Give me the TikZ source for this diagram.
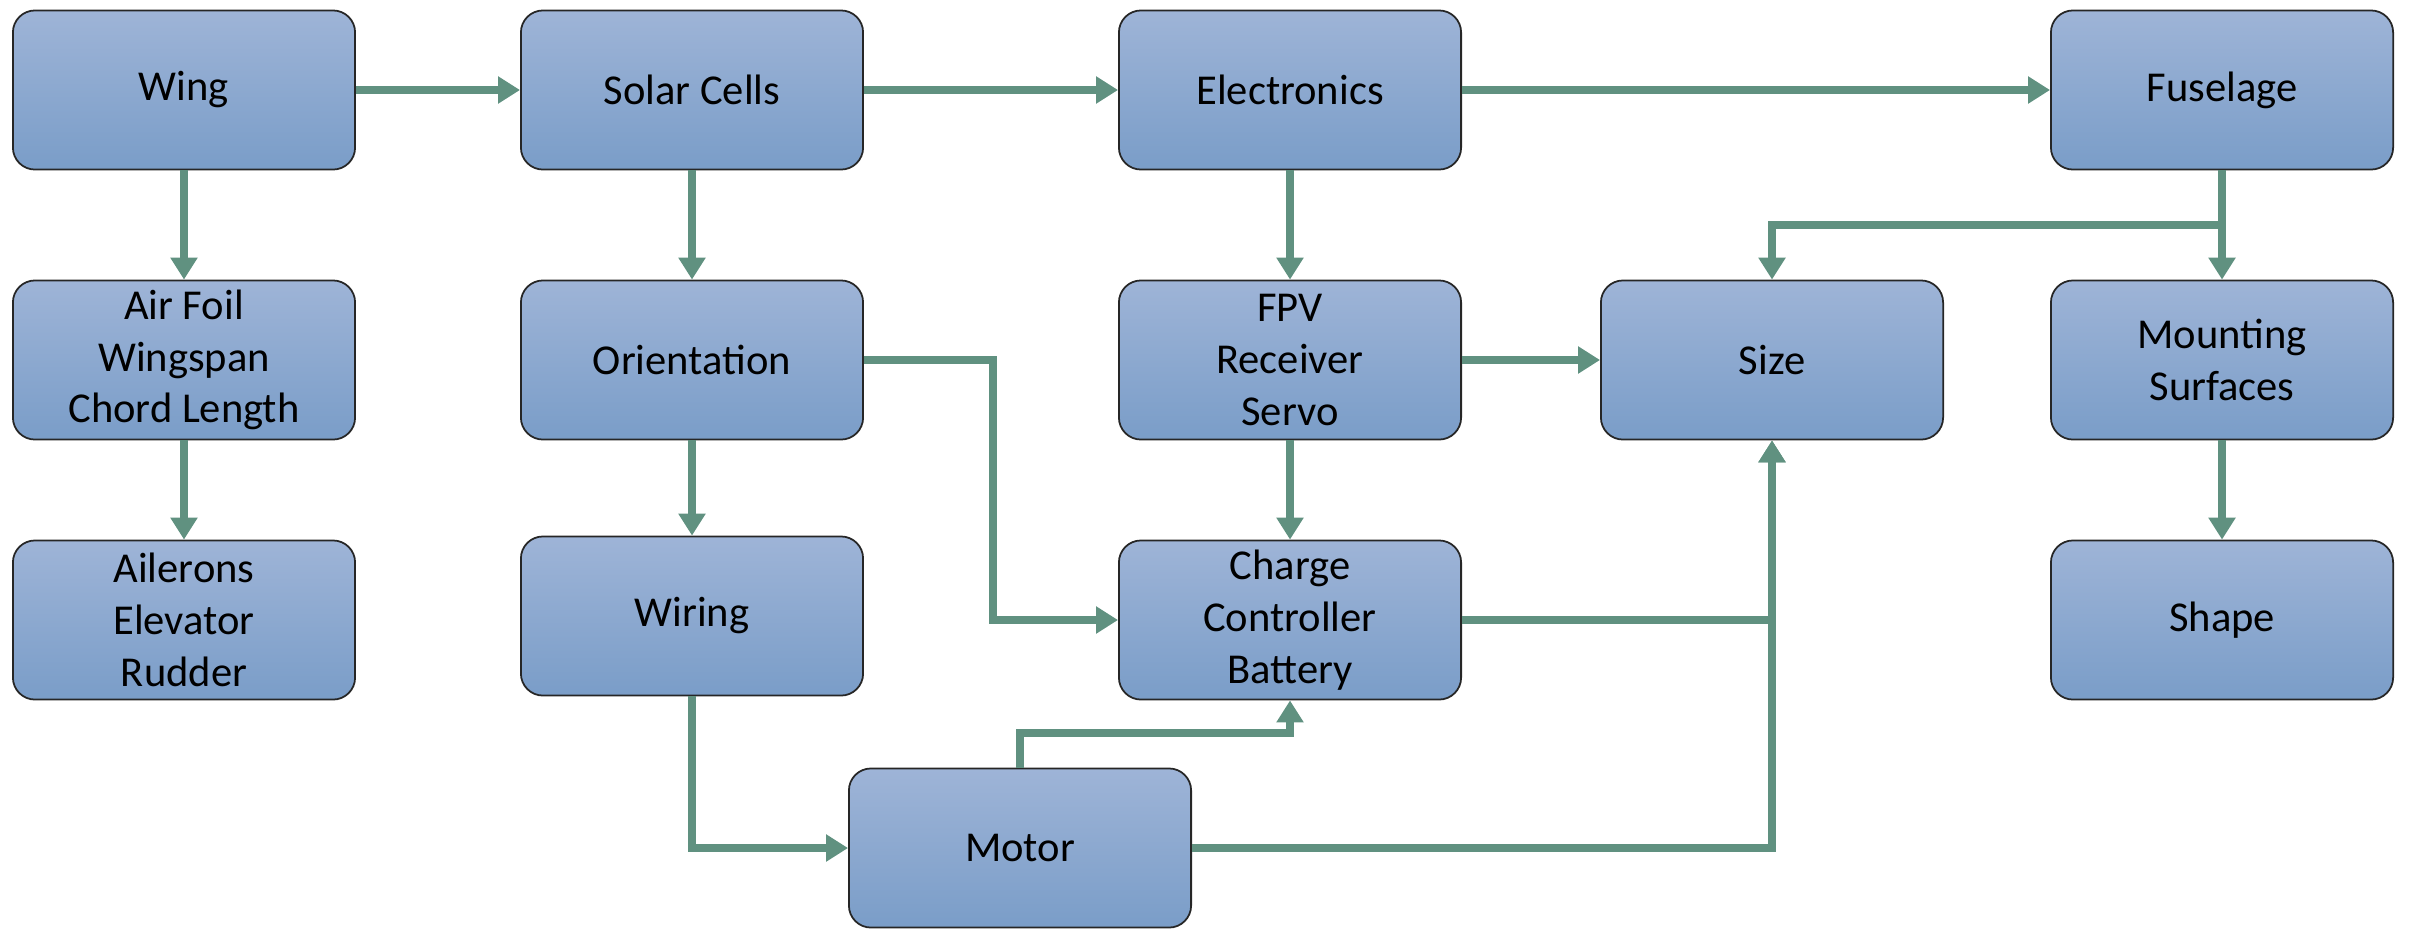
\documentclass[tikz,border=0pt]{standalone}
\usepackage{fontspec}
\setmainfont{Carlito}
\usetikzlibrary{arrows.meta}
\definecolor{boxtop}{RGB}{158,180,215}
\definecolor{boxbot}{RGB}{122,157,200}
\definecolor{arr}{RGB}{96,145,128}
\begin{document}
\begin{tikzpicture}[x=0.01cm,y=-0.01cm,
  blk/.style={draw=black!85, line width=0.5pt, rounded corners=0.22cm,
    top color=boxtop, bottom color=boxbot,
    minimum width=3.42cm, minimum height=1.59cm, inner sep=0pt,
    align=center, font=\fontsize{12.1}{14.7}\selectfont},
  conn/.style={draw=arr, line width=0.072cm,
    -{Triangle[width=0.26cm,length=0.22cm]}}]
\useasboundingbox (0,0) rectangle (2410,930);
% column 1
\node[blk] (wing) at (184,90) {Wing};
\node[blk] (foil) at (184,360) {Air Foil\\Wingspan\\Chord Length};
\node[blk] (ail) at (184,620) {Ailerons\\Elevator\\Rudder};
% column 2
\node[blk] (solar) at (692,90) {Solar Cells};
\node[blk] (orient) at (692,360) {Orientation};
\node[blk] (wiring) at (692,616) {Wiring};
% column 3
\node[blk] (elec) at (1290,90) {Electronics};
\node[blk] (fpv) at (1290,360) {FPV\\Receiver\\Servo};
\node[blk] (charge) at (1290,620) {Charge\\Controller\\Battery};
\node[blk] (motor) at (1020,848) {Motor};
% column 4
\node[blk] (size) at (1772,360) {Size};
% column 5
\node[blk] (fus) at (2222,90) {Fuselage};
\node[blk] (mount) at (2222,360) {Mounting\\Surfaces};
\node[blk] (shape) at (2222,620) {Shape};
% helper coordinates
\coordinate (fb) at (2222,225);
\coordinate (oc) at (993,360);
\coordinate (mc) at (1020,733);
% connectors
\draw[conn] (wing.east) -- (solar.west);
\draw[conn] (solar.east) -- (elec.west);
\draw[conn] (elec.east) -- (fus.west);
\draw[conn] (wing.south) -- (foil.north);
\draw[conn] (foil.south) -- (ail.north);
\draw[conn] (solar.south) -- (orient.north);
\draw[conn] (orient.south) -- (wiring.north);
\draw[conn] (orient.east) -- (oc) |- (charge.west);
\draw[conn] (elec.south) -- (fpv.north);
\draw[conn] (fpv.east) -- (size.west);
\draw[conn] (fpv.south) -- (charge.north);
\draw[conn] (fus.south) -- (mount.north);
\draw[conn] (fb) -| (size.north);
\draw[conn] (mount.south) -- (shape.north);
\draw[conn] (charge.east) -| (size.south);
\draw[conn] (motor.east) -| (size.south);
\draw[conn] (wiring.south) |- (motor.west);
\draw[conn] (motor.north) -- (mc) -| (charge.south);
\end{tikzpicture}
\end{document}
